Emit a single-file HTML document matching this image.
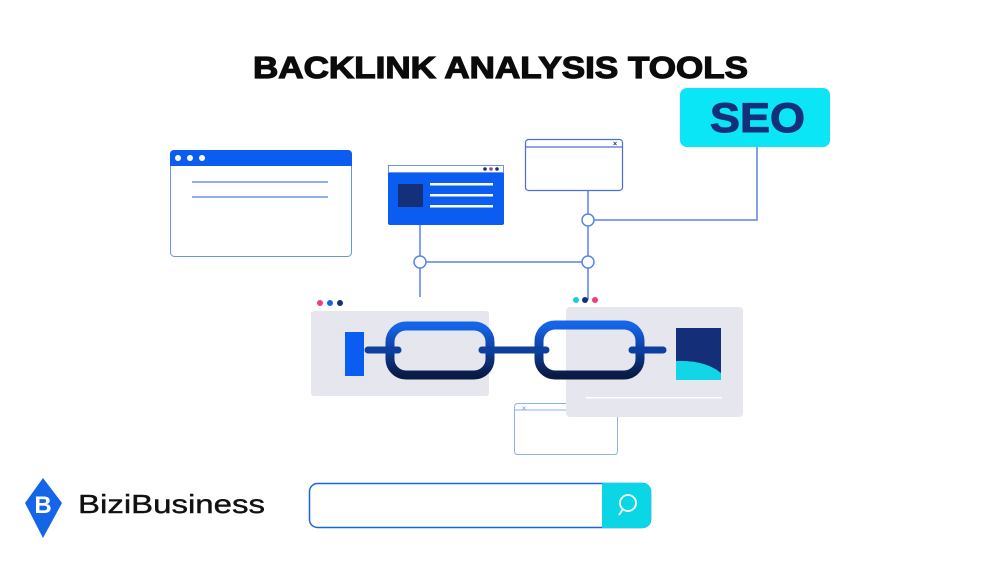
<!DOCTYPE html>
<html><head><meta charset="utf-8"><style>
body{margin:0;width:1000px;height:563px;background:#fff;overflow:hidden;font-family:"Liberation Sans",sans-serif}
</style></head><body>
<svg width="1000" height="563" viewBox="0 0 1000 563" xmlns="http://www.w3.org/2000/svg">
<defs>
<linearGradient id="cg" x1="0" y1="0" x2="0" y2="1">
<stop offset="0" stop-color="#1565e8"/><stop offset="0.5" stop-color="#0d3f9e"/><stop offset="1" stop-color="#0a1a45"/>
</linearGradient>
</defs>
<text x="253" y="78" textLength="495" lengthAdjust="spacingAndGlyphs" font-family="Liberation Sans" font-weight="bold" font-size="31" fill="#0b0b0b" stroke="#0b0b0b" stroke-width="1.2">BACKLINK ANALYSIS TOOLS</text>
<!-- SEO -->
<rect x="680" y="88" width="150" height="59" rx="7" fill="#0ae6f5"/>
<text x="710" y="132" textLength="95" lengthAdjust="spacingAndGlyphs" font-weight="bold" font-size="42" fill="#14307a" stroke="#14307a" stroke-width="1">SEO</text>
<!-- connectors -->
<g stroke="#5a84e8" stroke-width="1.5" fill="none">
<path d="M420 225V297M588 190V300M420 262H588M588 220H757V147"/>
</g>
<g fill="#fff" stroke="#5a84e8" stroke-width="1.5">
<circle cx="588" cy="220" r="6"/><circle cx="420" cy="262" r="6"/><circle cx="588" cy="262" r="6"/>
</g>
<!-- left window -->
<rect x="170.5" y="150.5" width="181" height="106" rx="4" fill="#fff" stroke="#6a93ee"/>
<path d="M170 166V154a4 4 0 0 1 4-4h174a4 4 0 0 1 4 4v12z" fill="#0b5cf0"/>
<circle cx="178" cy="158" r="3" fill="#fff"/><circle cx="190" cy="158" r="3" fill="#fff"/><circle cx="202" cy="158" r="3" fill="#fff"/>
<rect x="192" y="181" width="136" height="2" fill="#8fb0ef"/><rect x="192" y="196" width="136" height="2" fill="#8fb0ef"/>
<!-- blue window -->
<rect x="388" y="165" width="116" height="60" rx="2" fill="#0b5cf0"/>
<rect x="388.5" y="165.5" width="115" height="7" fill="#fff" stroke="#6a93ee" stroke-width="1"/>
<circle cx="485" cy="169" r="1.8" fill="#14307a"/><circle cx="491" cy="169" r="1.8" fill="#8a4a9a"/><circle cx="497" cy="169" r="1.8" fill="#14307a"/>
<rect x="398" y="184" width="25" height="23" fill="#14307a"/>
<rect x="430" y="183" width="63" height="2.5" fill="#fff"/><rect x="430" y="194" width="63" height="2.5" fill="#fff"/><rect x="430" y="205" width="63" height="2.5" fill="#fff"/>
<!-- top window -->
<rect x="525.5" y="139.5" width="97" height="51" rx="3" fill="#fff" stroke="#4a6fd8" stroke-width="1.2"/>
<line x1="525" y1="147" x2="623" y2="147" stroke="#4a6fd8" stroke-width="1.2"/>
<text x="615" y="146" text-anchor="middle" font-size="7" font-weight="bold" fill="#14307a">×</text>
<!-- left gray panel -->
<rect x="311" y="311" width="178" height="85" rx="3" fill="#e6e7ee"/>
<circle cx="320" cy="303" r="3" fill="#ef3f72"/><circle cx="330" cy="303" r="3" fill="#1565e8"/><circle cx="340" cy="303" r="3" fill="#14307a"/>
<rect x="345" y="332" width="19" height="44" fill="#0b5cf0"/>
<!-- small bottom window -->
<rect x="514.5" y="403.5" width="103" height="51" rx="3" fill="#fff" stroke="#8fb0ef"/>
<line x1="514" y1="410" x2="600" y2="410" stroke="#8fb0ef"/>
<text x="524" y="411" text-anchor="middle" font-size="8" fill="#6a93ee">×</text>
<!-- right gray panel -->
<rect x="566" y="307" width="177" height="110" rx="4" fill="#e6e7ee"/>
<circle cx="576" cy="300" r="3" fill="#12d0e0"/><circle cx="585" cy="300" r="3" fill="#14307a"/><circle cx="595" cy="300" r="3" fill="#ef3f72"/>
<rect x="676" y="328" width="45" height="52" fill="#142f78"/>
<path d="M676 380V361Q705 360 721 373V380z" fill="#12d5e5"/>
<rect x="586" y="397" width="136" height="1.5" fill="#fff"/>
<!-- chain -->
<rect x="390" y="326" width="100" height="49" rx="16" fill="none" stroke="url(#cg)" stroke-width="9"/>
<rect x="539" y="325" width="101" height="50" rx="16" fill="none" stroke="url(#cg)" stroke-width="9"/>
<g stroke="#0d3f9e" stroke-width="7" stroke-linecap="round">
<line x1="368" y1="350" x2="398" y2="350"/><line x1="482" y1="350" x2="546" y2="350"/><line x1="632" y1="350" x2="663" y2="350"/>
</g>
<!-- search -->
<rect x="309.5" y="483.5" width="341" height="44" rx="8" fill="#fff" stroke="#1565e8" stroke-width="1.5"/>
<path d="M602 483h41a8 8 0 0 1 8 8v29a8 8 0 0 1-8 8h-41z" fill="#0ad6e6"/>
<circle cx="628" cy="503" r="8" fill="none" stroke="#fff" stroke-width="1.8"/>
<line x1="623" y1="509" x2="619" y2="515" stroke="#fff" stroke-width="1.8"/>
<!-- logo -->
<path d="M43 478L62 503L43 538L25 503z" fill="#1565e8"/>
<text x="43" y="513" text-anchor="middle" font-weight="bold" font-size="24" fill="#fff">B</text>
<text x="78" y="513" textLength="187" lengthAdjust="spacingAndGlyphs" font-size="26" fill="#111" stroke="#111" stroke-width="0.4">BiziBusiness</text>
</svg>
</body></html>
